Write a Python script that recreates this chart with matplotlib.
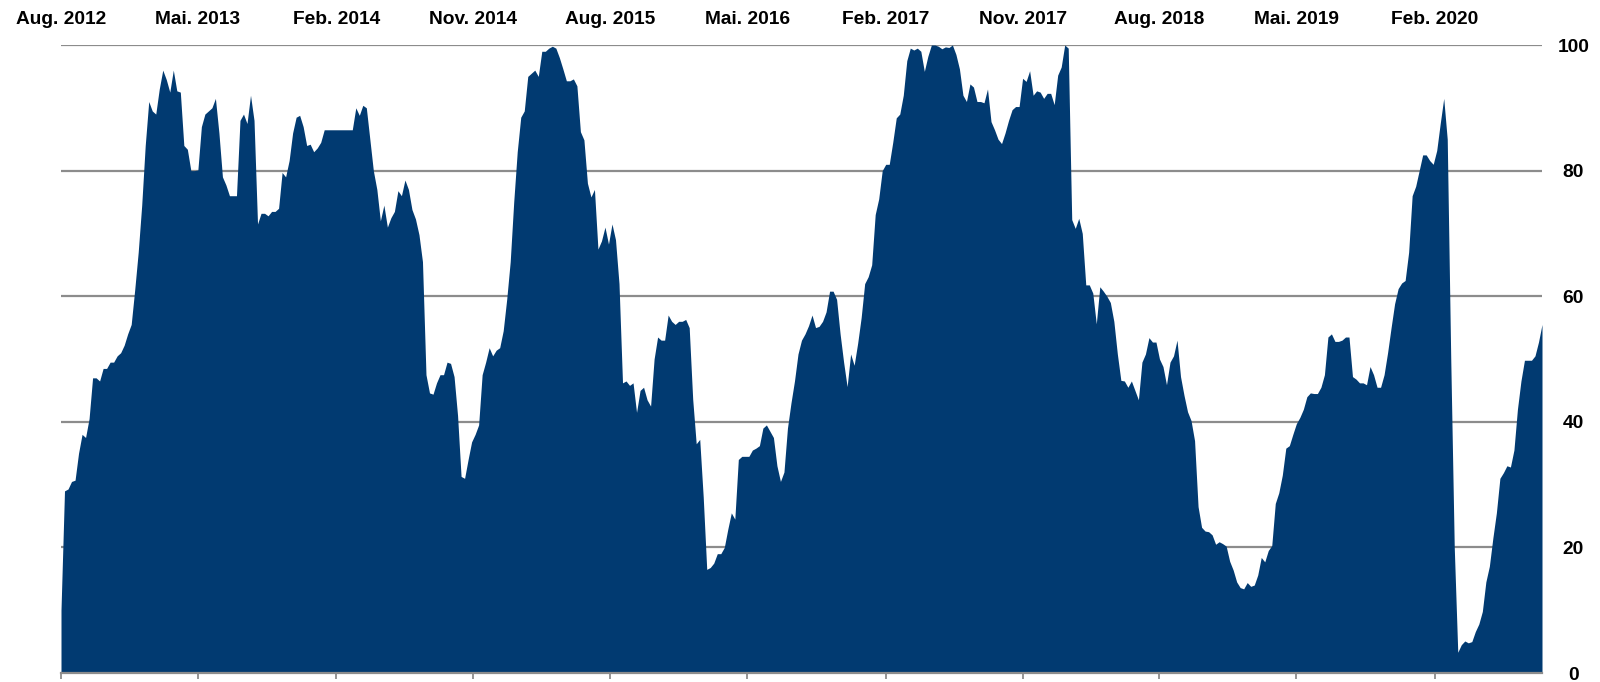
import numpy as np
import pandas as pd
import matplotlib
matplotlib.use("Agg")
import matplotlib.pyplot as plt

# ---- data (weekly readings, index 0-100) ----
start_date = "2012-08-01"
values = [
    10, 29, 29.3, 30.5, 30.7, 35, 38, 37.5, 40.5, 47,
    47, 46.5, 48.5, 48.5, 49.5, 49.5, 50.5, 51, 52.2, 54,
    55.5, 61, 67, 74.5, 84, 91, 89.5, 89, 93, 96,
    94.5, 92.5, 96, 92.7, 92.5, 84, 83.4, 80, 80, 80.1,
    87, 89, 89.5, 90, 91.5, 86, 79, 77.7, 76, 76,
    76, 88, 89, 87.5, 92, 88, 71.5, 73.2, 73.2, 72.8,
    73.5, 73.5, 74, 79.7, 79, 81.6, 86, 88.5, 88.8, 87,
    84, 84.2, 83, 83.6, 84.5, 86.5, 86.5, 86.5, 86.5, 86.5,
    86.5, 86.5, 86.5, 86.5, 90, 88.8, 90.4, 90, 85, 80,
    77, 72, 74.5, 71, 72.5, 73.5, 76.8, 76, 78.5, 77,
    73.8, 72.3, 69.8, 65.5, 47.5, 44.6, 44.4, 46.2, 47.5, 47.5,
    49.5, 49.3, 47.2, 41, 31.3, 31, 34, 36.8, 38, 39.5,
    47.5, 49.5, 51.8, 50.5, 51.4, 51.8, 54.5, 59.5, 65.5, 75,
    83, 88.5, 89.5, 95, 95.5, 96, 95, 99, 99, 99.5,
    99.8, 99.5, 98, 96.2, 94.3, 94.3, 94.6, 93.5, 86.2, 84.9,
    78, 75.8, 77, 67.5, 68.8, 71, 68.3, 71.5, 69, 62,
    46.2, 46.5, 45.8, 46.2, 41.5, 45, 45.5, 43.5, 42.5, 50,
    53.5, 53, 53, 57, 56, 55.5, 56, 56, 56.3, 55,
    43.6, 36.5, 37.2, 28, 16.5, 16.8, 17.5, 19, 19, 20,
    22.9, 25.5, 24.5, 34, 34.5, 34.5, 34.5, 35.5, 35.8, 36.2,
    39, 39.5, 38.5, 37.5, 33, 30.5, 32, 39, 43, 46.5,
    50.8, 53, 54, 55.3, 57, 55, 55.2, 56, 57.5, 60.8,
    60.8, 59.5, 54, 49.5, 45.6, 50.8, 49, 52.5, 56.6, 62,
    63.1, 65, 73, 75.5, 80, 81, 81, 84.5, 88.4, 89,
    92, 97.5, 99.5, 99.2, 99.5, 99, 95.8, 98.2, 100, 100,
    99.8, 99.4, 99.7, 99.6, 100, 98.5, 96.2, 92, 91, 93.8,
    93.3, 91, 91, 90.8, 93, 87.8, 86.5, 85, 84.3, 86,
    88, 89.7, 90.2, 90.2, 94.7, 94.2, 95.9, 92, 92.7, 92.5,
    91.5, 92.3, 92.3, 90.5, 95.2, 96.5, 100, 99.5, 72.2, 70.8,
    72.4, 70, 61.8, 61.8, 60.5, 55.6, 61.5, 60.8, 60, 59,
    56, 50.8, 46.6, 46.5, 45.5, 46.5, 45, 43.5, 49.5, 50.8,
    53.4, 52.7, 52.7, 50, 48.8, 45.9, 49.5, 50.5, 53, 47.2,
    44.2, 41.6, 40.2, 37, 26.5, 23.2, 22.6, 22.5, 22, 20.5,
    20.9, 20.6, 20.2, 17.8, 16.4, 14.5, 13.6, 13.4, 14.4, 13.8,
    14, 15.6, 18.4, 17.7, 19.5, 20.3, 27, 28.7, 31.5, 35.8,
    36.2, 38, 39.7, 40.7, 42, 44, 44.6, 44.5, 44.5, 45.5,
    47.5, 53.5, 54, 52.8, 52.8, 53, 53.5, 53.5, 47.2, 46.8,
    46.2, 46.2, 45.9, 48.8, 47.5, 45.5, 45.5, 47.5, 51, 55,
    58.8, 61.2, 62.1, 62.5, 67, 76, 77.5, 80, 82.5, 82.5,
    81.6, 81, 83.2, 87.5, 91.5, 85, 50, 20, 3.3, 4.5,
    5.1, 4.8, 5, 6.6, 7.8, 9.8, 14.5, 17, 21.5, 25.5,
    31, 31.9, 33, 32.8, 35.5, 42, 46.5, 49.8, 49.8, 49.8,
    50.5, 52.7, 55.5,
]
tick_dates = ["2012-08-01", "2013-05-01", "2014-02-01", "2014-11-01",
              "2015-08-01", "2016-05-01", "2017-02-01", "2017-11-01",
              "2018-08-01", "2019-05-01", "2020-02-01"]
tick_labels = ["Aug. 2012", "Mai. 2013", "Feb. 2014", "Nov. 2014",
               "Aug. 2015", "Mai. 2016", "Feb. 2017", "Nov. 2017",
               "Aug. 2018", "Mai. 2019", "Feb. 2020"]
y_ticks = [0, 20, 40, 60, 80, 100]
y_labels = ["0", "20", "40", "60", "80", "100"]

# ---- styling ----
plt.rcParams['font.family'] = ['Liberation Sans', 'DejaVu Sans']
FILL = "#013a71"
GRID = "#8c8c8c"

dates = pd.date_range(start_date, periods=len(values), freq="7D")

fig = plt.figure(figsize=(16, 6.82), dpi=100)
ax = fig.add_axes([61 / 1600, 9 / 682, (1542 - 61) / 1600, (673 - 45) / 682])

ax.fill_between(dates, values, 0, color=FILL, linewidth=0, zorder=3)

ax.set_xlim(dates[0], dates[-1])
ax.set_ylim(0, 100)

# y axis on the right
ax.yaxis.tick_right()
ax.set_yticks(y_ticks, y_labels)
ax.tick_params(axis='y', length=0, pad=22.5, labelsize=13.8)
for lab in ax.get_yticklabels():
    lab.set_fontweight('bold')
    lab.set_horizontalalignment('center')
ax.yaxis.grid(True, color=GRID, linewidth=1.6, zorder=1)
ax.set_axisbelow(True)

# x axis: tick marks at bottom, labels on top
ax.set_xticks(pd.to_datetime(tick_dates), tick_labels)
ax.tick_params(axis='x', bottom=True, top=False, labelbottom=False,
               labeltop=True, length=4, width=1.3, color=GRID,
               pad=8, labelsize=13.8)
for lab in ax.get_xticklabels():
    lab.set_fontweight('bold')

for s in ['left', 'right', 'top']:
    ax.spines[s].set_visible(False)
ax.spines['bottom'].set_color(GRID)
ax.spines['bottom'].set_linewidth(1.6)
ax.spines['bottom'].set_zorder(4)

fig.savefig("out.png", dpi=100)
